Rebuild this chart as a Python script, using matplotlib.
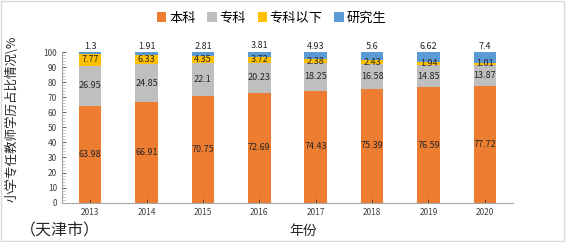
import matplotlib
matplotlib.use("Agg")
import matplotlib.pyplot as plt
from matplotlib.patches import Rectangle
from matplotlib.ticker import MultipleLocator
import numpy as np

plt.rcParams['font.family'] = ['Noto Sans CJK SC', 'DejaVu Sans']

years = ['2013', '2014', '2015', '2016', '2017', '2018', '2019', '2020']
benke = [63.98, 66.91, 70.75, 72.69, 74.43, 75.39, 76.59, 77.72]
zhuanke = [26.95, 24.85, 22.1, 20.23, 18.25, 16.58, 14.85, 13.87]
zhuanke_below = [7.77, 6.33, 4.35, 3.72, 2.38, 2.43, 1.94, 1.01]
yanjiusheng = [1.3, 1.91, 2.81, 3.81, 4.93, 5.6, 6.62, 7.4]

series = [('本科', benke, '#ED7D31'),
          ('专科', zhuanke, '#BFBFBF'),
          ('专科以下', zhuanke_below, '#FFC000'),
          ('研究生', yanjiusheng, '#5B9BD5')]

fig = plt.figure(figsize=(5.66, 2.42), dpi=100)
fig.patches.append(Rectangle((0.002, 0.004), 0.994, 0.99, transform=fig.transFigure,
                             fill=False, edgecolor='#D9D9D9', linewidth=1.0))
ax = fig.add_axes([0.1095, 0.1624, 0.797, 0.6226])

x = np.arange(len(years))
bottom = np.zeros(len(years))
handles = []
for i, (name, vals, col) in enumerate(series):
    vals = np.array(vals)
    b = ax.bar(x, vals, 0.4, bottom=bottom, color=col, label=name, linewidth=0)
    handles.append(b)
    for xi, v, bt in zip(x, vals, bottom):
        if i == len(series) - 1:
            ax.text(xi, bt + v + 0.8, f"{v:g}", ha='center', va='bottom',
                    fontsize=6.5, color='#262626')
        else:
            ax.text(xi, bt + v / 2, f"{v:g}", ha='center', va='center',
                    fontsize=6.5, color='#262626')
    bottom = bottom + vals

ax.set_xlim(-0.5, len(years) - 0.5)
ax.set_ylim(0, 100)
ax.set_xticks(x)
ax.set_xticklabels(years, fontsize=6)
ax.yaxis.set_major_locator(MultipleLocator(10))
ax.yaxis.set_minor_locator(MultipleLocator(2))
ax.tick_params(axis='y', labelsize=6, colors='#404040', length=3, width=0.6, direction='in')
ax.tick_params(axis='y', which='minor', length=2, width=0.5, direction='in', colors='#A6A6A6')
ax.tick_params(axis='x', length=3, width=0.6, colors='#404040', direction='in')
for s in ['top', 'right']:
    ax.spines[s].set_visible(False)
for s in ['left', 'bottom']:
    ax.spines[s].set_color('#A6A6A6')
    ax.spines[s].set_linewidth(0.8)

ax.set_ylabel('小学专任教师学历占比情况\\%', fontsize=9, color='#262626')
ax.yaxis.set_label_coords(-0.095, 0.56)
fig.text(0.535, 0.045, '年份', ha='center', va='center', fontsize=10, color='#262626')
fig.text(0.035, 0.045, '（天津市）', ha='left', va='center', fontsize=11.5, color='#262626')

fig.legend(handles=handles, loc='center', bbox_to_anchor=(0.48, 0.925), ncol=4,
           frameon=False, fontsize=9.5, handlelength=0.7, handleheight=0.7,
           handletextpad=0.2, columnspacing=0.9)

fig.savefig('out.png', dpi=100)
